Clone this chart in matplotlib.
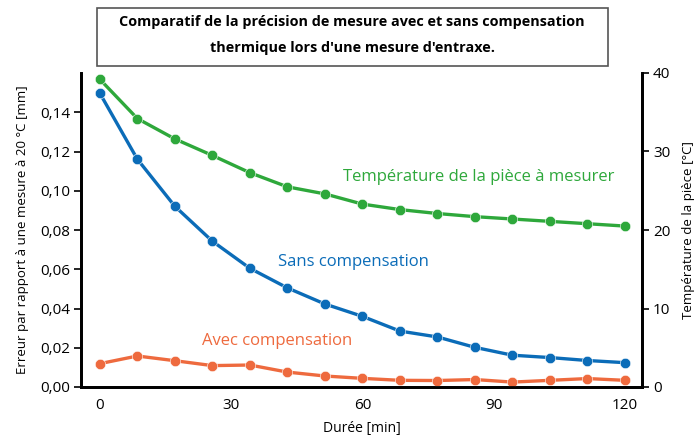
import matplotlib
matplotlib.use("Agg")
from matplotlib import pyplot as plt
import numpy as np

# durée en minutes, 15 mesures
duree = np.linspace(0, 120, 15)
sans_comp = [0.1497, 0.1161, 0.0921, 0.0743, 0.0605, 0.0505, 0.0423, 0.0360,
             0.0285, 0.0255, 0.0202, 0.0162, 0.0150, 0.0135, 0.0124]
avec_comp = [0.0119, 0.0158, 0.0134, 0.0109, 0.0112, 0.0076, 0.0056, 0.0044,
             0.0034, 0.0033, 0.0038, 0.0025, 0.0034, 0.0043, 0.0034]
temperature = [39.2, 34.2, 31.6, 29.5, 27.3, 25.5, 24.6, 23.3,
               22.6, 22.1, 21.7, 21.4, 21.1, 20.8, 20.5]

x_ticks = [0, 30, 60, 90, 120]
y_ticks = [0.00, 0.02, 0.04, 0.06, 0.08, 0.10, 0.12, 0.14]
t_ticks = [0, 10, 20, 30, 40]

plt.rcParams["font.family"] = ["Open Sans", "DejaVu Sans"]

green = "#2ea83b"
blue = "#0b6cb8"
orange = "#ee6a3e"

fig = plt.figure(figsize=(6.99, 4.37), dpi=100)
ax = fig.add_axes([81/699, 1-387/437, (642-81)/699, (387-73)/437])
ax2 = ax.twinx()

ax.plot(duree, sans_comp, color=blue, lw=2.4, marker="o", ms=7.5,
        mec="white", mew=0.4, zorder=3)
ax.plot(duree, avec_comp, color=orange, lw=2.4, marker="o", ms=7.5,
        mec="white", mew=0.4, zorder=3)
ax2.plot(duree, temperature, color=green, lw=2.4, marker="o", ms=7.5,
         mec="white", mew=0.4, zorder=3)

ax.set_xlim(-4.3, 123.9)
ax.set_ylim(0, 0.16)
ax2.set_ylim(0, 40)

ax.set_xticks(x_ticks)
ax.set_xticklabels([str(v) for v in x_ticks], fontsize=11)
ax.set_yticks(y_ticks)
ax.set_yticklabels([f"{v:.2f}".replace(".", ",") for v in y_ticks], fontsize=11)
ax2.set_yticks(t_ticks)
ax2.set_yticklabels([str(v) for v in t_ticks], fontsize=11)

ax.tick_params(axis="x", length=0, pad=8)
ax.tick_params(axis="y", length=5, width=1.2, direction="out", pad=3)
ax2.tick_params(axis="y", length=5, width=1.2, direction="out", pad=3)

for a in (ax, ax2):
    a.spines["top"].set_visible(False)
    for s in ("left", "right", "bottom"):
        a.spines[s].set_linewidth(2)
        a.spines[s].set_color("black")

ax.set_xlabel("Durée [min]", fontsize=10, labelpad=6)
ax.set_ylabel("Erreur par rapport à une mesure à 20 °C [mm]", fontsize=9.5, labelpad=8)
ax2.set_ylabel("Température de la pièce [°C]", fontsize=9.5, labelpad=8)

ax.text(86.6, 0.1072, "Température de la pièce à mesurer", color=green,
        fontsize=12, ha="center", va="center")
ax.text(58, 0.0636, "Sans compensation", color=blue,
        fontsize=12, ha="center", va="center")
ax.text(40.5, 0.0236, "Avec compensation", color=orange,
        fontsize=12, ha="center", va="center")

# cadre du titre
fig.patches.append(plt.Rectangle((97/699, 1-66/437), (608-97)/699, (66-8)/437,
                                 transform=fig.transFigure, fill=False,
                                 edgecolor="#555555", lw=1.2))
fig.text(352/699, 1-22/437, "Comparatif de la précision de mesure avec et sans compensation",
         ha="center", va="center", fontsize=10.4, fontweight="bold")
fig.text(352/699, 1-48/437, "thermique lors d'une mesure d'entraxe.",
         ha="center", va="center", fontsize=10.4, fontweight="bold")

fig.savefig("out.png", dpi=100)
